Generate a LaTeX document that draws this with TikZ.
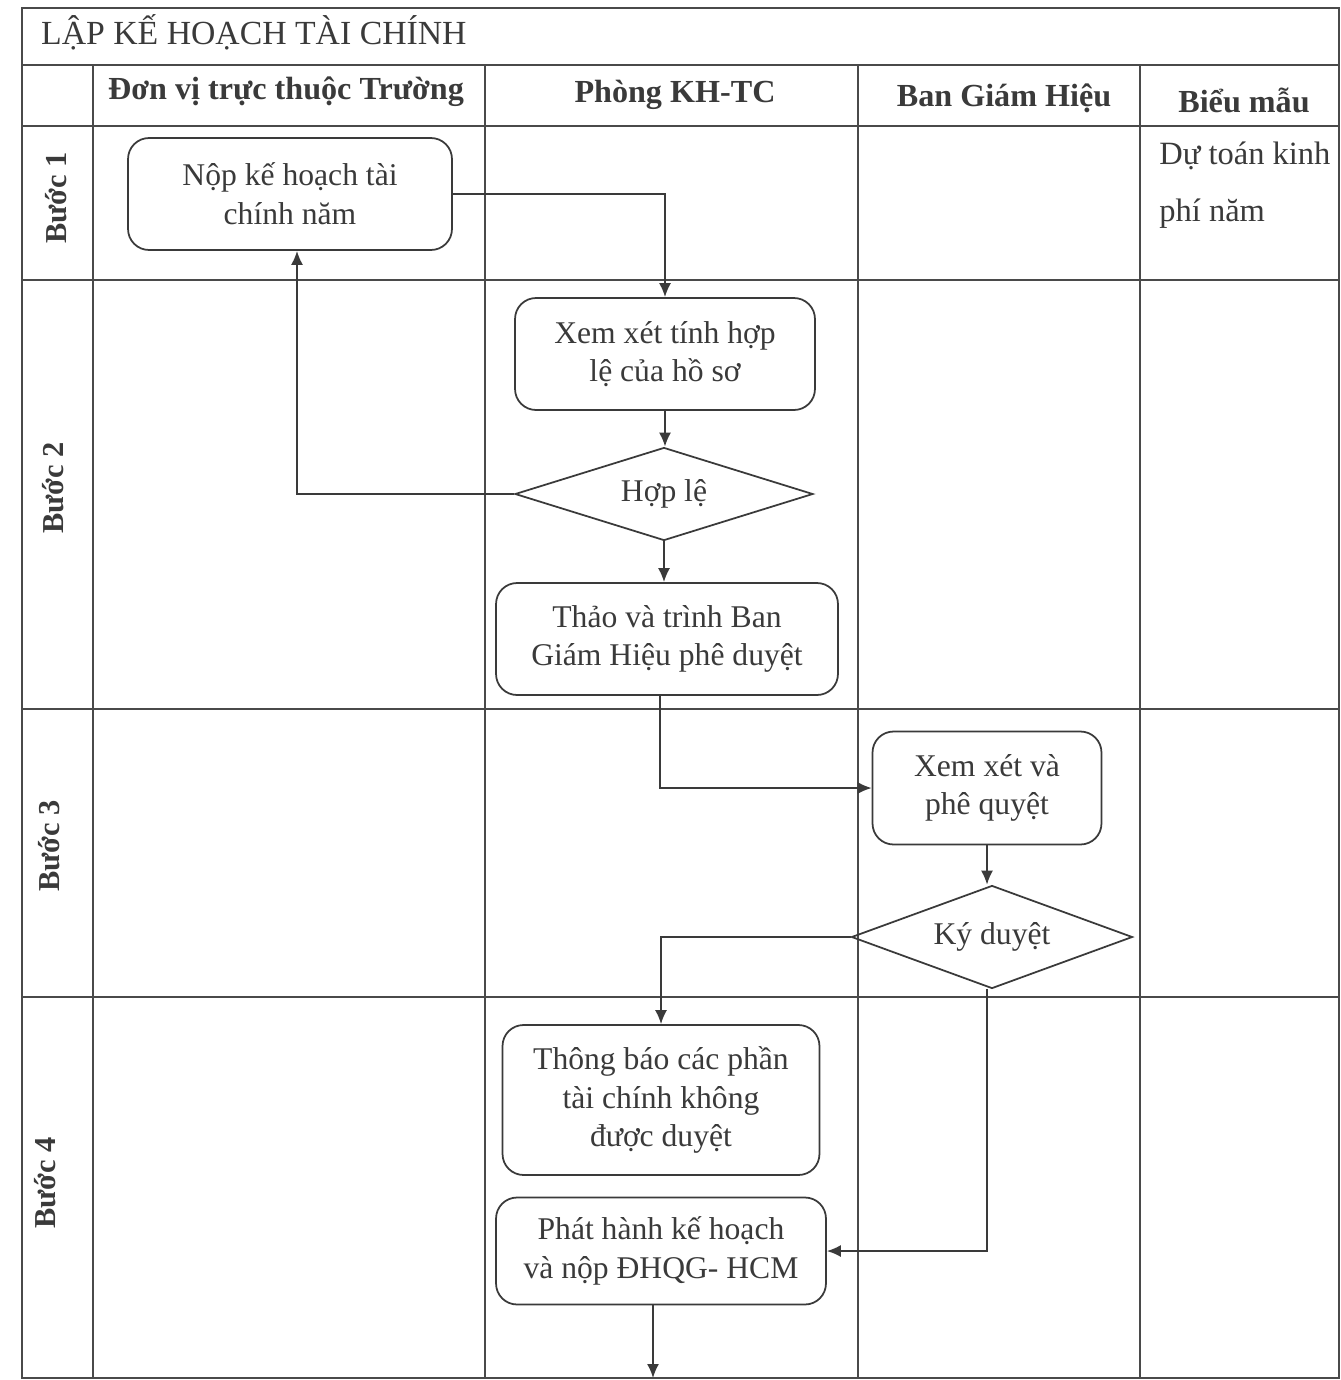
\documentclass[tikz,border=0pt]{standalone}
\usepackage{fontspec}
\setmainfont{Liberation Serif}
\usetikzlibrary{shapes.geometric,arrows.meta}
\definecolor{ink}{HTML}{3A3A3A}
\definecolor{rule}{HTML}{4A4A4A}
\tikzset{
  grid/.style={draw=rule, line width=0.9pt},
  box/.style={draw=ink, line width=1pt, rounded corners=0.42cm, align=center, text=ink,
    font=\fontsize{18}{22}\selectfont, inner sep=2pt},
  dia/.style={draw=ink, line width=1pt, diamond, aspect=3, inner sep=0pt, text=ink,
    font=\fontsize{18}{22}\selectfont},
  arr/.style={draw=ink, line width=1pt, -{Latex[length=2.8mm,width=2.4mm]}},
  head/.style={text=ink, font=\bfseries\fontsize{18.3}{22}\selectfont},
  rowlab/.style={text=ink, font=\bfseries\fontsize{17.3}{22}\selectfont, rotate=90},
  plain/.style={text=ink, font=\fontsize{18.5}{22}\selectfont}
}
\begin{document}
\begin{tikzpicture}[x=0.02cm,y=-0.02cm]
\useasboundingbox (0,0) rectangle (1341,1380);
% table grid
\draw[grid] (22,8) rectangle (1339,1378);
\draw[grid] (22,65) -- (1339,65);
\draw[grid] (22,126) -- (1339,126);
\draw[grid] (22,280) -- (1339,280);
\draw[grid] (22,709) -- (1339,709);
\draw[grid] (22,997) -- (1339,997);
\draw[grid] (93,65) -- (93,1378);
\draw[grid] (485,65) -- (485,1378);
\draw[grid] (858,65) -- (858,1378);
\draw[grid] (1140,65) -- (1140,1378);
% title and headers
\node[text=ink, font=\fontsize{19.2}{22}\selectfont, anchor=west] (title) at (35,32) {LẬP KẾ HOẠCH TÀI CHÍNH};
\node[head] (h1) at (286,92) {Đơn vị trực thuộc Trường};
\node[head] (h2) at (675,95) {Phòng KH-TC};
\node[head] (h3) at (1004,98) {Ban Giám Hiệu};
\node[head] (h4) at (1244,100) {Biểu mẫu};
% row labels
\node[rowlab] (r1) at (56,198) {Bước 1};
\node[rowlab] (r2) at (53,488) {Bước 2};
\node[rowlab] (r3) at (49,846) {Bước 3};
\node[rowlab] (r4) at (45,1183) {Bước 4};
% form text
\node[plain, anchor=north west, align=left, inner sep=0pt] (form) at (1159,142)
  {Dự toán kinh\\[0.36cm]phí năm};
% process nodes
\node[box, minimum width=6.48cm, minimum height=2.24cm] (n1) at (290,194) {Nộp kế hoạch tài\\chính năm};
\node[box, minimum width=6.0cm, minimum height=2.24cm] (n2) at (665,354) {Xem xét tính hợp\\lệ của hồ sơ};
\node[dia, minimum width=5.96cm, minimum height=1.86cm] (d1) at (664,494) {Hợp lệ};
\node[box, minimum width=6.84cm, minimum height=2.24cm] (n3) at (667,639) {Thảo và trình Ban\\Giám Hiệu phê duyệt};
\node[box, minimum width=4.58cm, minimum height=2.26cm] (n4) at (987,788) {Xem xét và\\phê quyệt};
\node[dia, minimum width=5.62cm, minimum height=2.06cm] (d2) at (992,937) {Ký duyệt};
\node[box, minimum width=6.34cm, minimum height=3.0cm] (n5) at (661,1100) {Thông báo các phần\\tài chính không\\được duyệt};
\node[box, minimum width=6.6cm, minimum height=2.14cm] (n6) at (661,1251) {Phát hành kế hoạch\\và nộp ĐHQG- HCM};
\coordinate (bot) at (653,1378);
% connectors
\draw[arr] (n1.east) -| (n2.north);
\draw[arr] (n2.south) -- (n2.south |- d1.north);
\draw[arr] (d1.west) -| ([xshift=0.14cm]n1.south);
\draw[arr] (d1.south) -- (d1.south |- n3.north);
\draw[arr] ([xshift=-0.14cm]n3.south) |- (n4.west);
\draw[arr] (n4.south) -- (n4.south |- d2.north);
\draw[arr] (d2.west) -| (n5.north);
\draw[arr] ([xshift=-0.1cm]d2.south) |- (n6.east);
\draw[arr] (n6.south -| bot) -- (bot);
\end{tikzpicture}
\end{document}
